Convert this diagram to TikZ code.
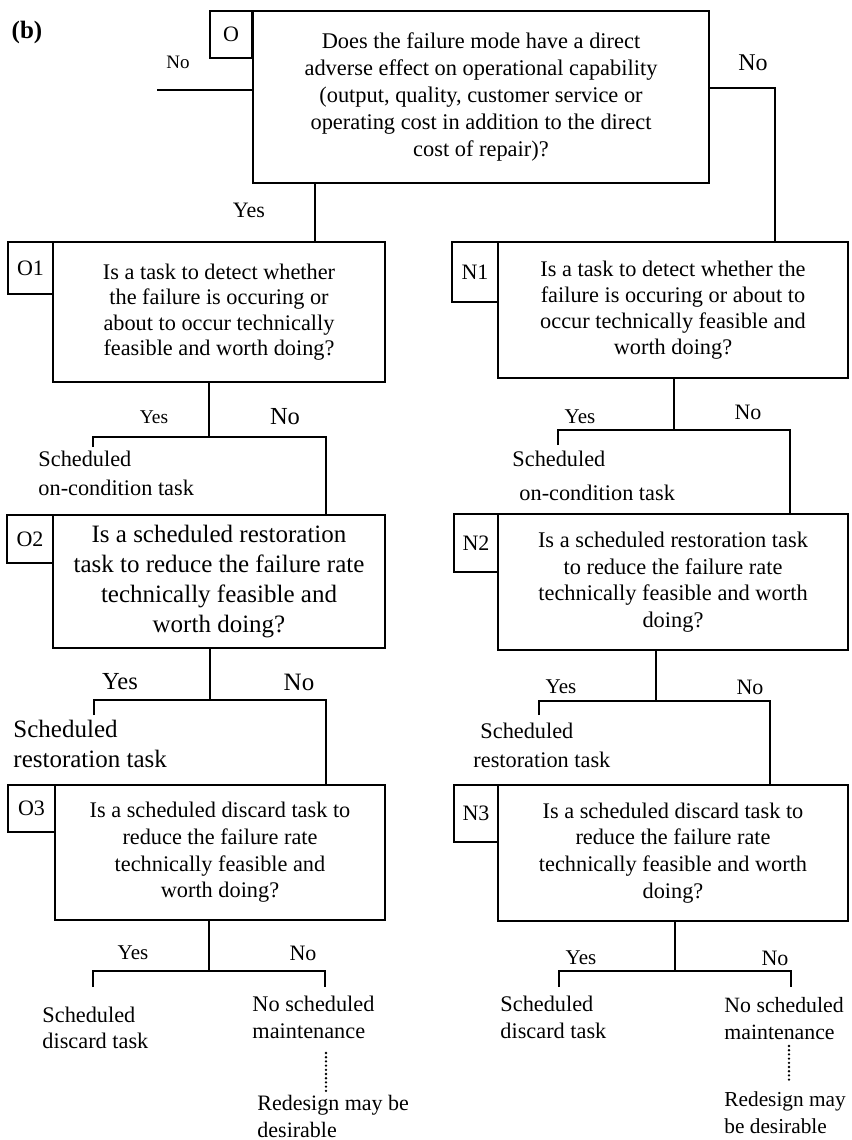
\documentclass[tikz,border=0pt]{standalone}
\usepackage{fontspec}
\setmainfont{Liberation Serif}
\newcommand\fs[2]{\fontsize{#1}{#2}\selectfont}
\tikzset{
  qbox/.style={draw, inner sep=0pt, align=center},
  lbox/.style={draw, inner sep=0pt, font=\fs{22}{26}},
  lab/.style={inner sep=0pt},
  lln/.style={inner sep=0pt, align=left, anchor=north west},
  dots/.style={dash pattern=on 0pt off 4.2pt, line cap=round, line width=2.6pt}
}
\begin{document}
\begin{tikzpicture}[x=1pt, y=-1pt, line width=2.9pt]
\useasboundingbox (0,0) rectangle (851,1140);

% ---------- boxes ----------
\node[qbox, minimum width=456pt, minimum height=172pt, font=\fs{22.4}{27}] (O) at (481,97)
  {Does the failure mode have a direct\\adverse effect on operational capability\\(output, quality, customer service or\\operating cost in addition to the direct\\cost of repair)?};
\node[lbox, minimum width=42pt, minimum height=47pt] (Ol) at (231,34.5) {O};

\node[qbox, minimum width=332pt, minimum height=140pt, font=\fs{22.3}{25.5}] (O1) at (219,312)
  {Is a task to detect whether\\the failure is occuring or\\about to occur technically\\feasible and worth doing?};
\node[lbox, minimum width=45pt, minimum height=52pt] (O1l) at (30.5,268) {O1};

\node[qbox, minimum width=350pt, minimum height=136pt, font=\fs{22.3}{26}] (N1) at (673,310)
  {Is a task to detect whether the\\failure is occuring or about to\\occur technically feasible and\\worth doing?};
\node[lbox, minimum width=46pt, minimum height=60pt] (N1l) at (475,272) {N1};

\node[qbox, minimum width=332pt, minimum height=133pt, font=\fs{25}{30}] (O2) at (219,581.5)
  {Is a scheduled restoration\\task to reduce the failure rate\\technically feasible and\\worth doing?};
\node[lbox, minimum width=46pt, minimum height=48pt] (O2l) at (30,539) {O2};

\node[qbox, minimum width=350pt, minimum height=136pt, font=\fs{22.4}{26.5}] (N2) at (673,582)
  {Is a scheduled restoration task\\to reduce the failure rate\\technically feasible and worth\\doing?};
\node[lbox, minimum width=44pt, minimum height=58pt] (N2l) at (476,543) {N2};

\node[qbox, minimum width=330pt, minimum height=135pt, font=\fs{22.3}{26.7}] (O3) at (220,852.5)
  {Is a scheduled discard task to\\reduce the failure rate\\technically feasible and\\worth doing?};
\node[lbox, minimum width=47pt, minimum height=47pt] (O3l) at (31.5,808.5) {O3};

\node[qbox, minimum width=350pt, minimum height=136pt, font=\fs{22.3}{26.7}] (N3) at (673,853)
  {Is a scheduled discard task to\\reduce the failure rate\\technically feasible and worth\\doing?};
\node[lbox, minimum width=44pt, minimum height=57pt] (N3l) at (476,813.5) {N3};

% ---------- top connectors ----------
\node[lab, font=\fs{25}{30}\bfseries] (b) at (27,32) {(b)};
\coordinate (noL) at (157,90);
\draw (noL) -- (noL -| O.west);
\node[lab, font=\fs{19}{23}] (noLt) at (178,62) {No};
\coordinate (noR) at (775,88);
\draw (noR -| O.east) -- (noR) -- (noR |- N1.north);
\node[lab, font=\fs{24}{28}] (noRt) at (753,63) {No};
\coordinate (yesO) at (315,0);
\draw (yesO |- O.south) -- (yesO |- O1.north);
\node[lab, font=\fs{22}{26}] (yesOt) at (249,210) {Yes};

% ---------- O1 branch ----------
\coordinate (a1) at (209,437);
\coordinate (a1y) at (93,447);
\coordinate (a1n) at (326,0);
\draw (a1 |- O1.south) -- (a1);
\draw (a1y) |- (a1) -| (a1n |- O2.north);
\node[lab, font=\fs{19.5}{23}] (a1yt) at (154,417) {Yes};
\node[lab, font=\fs{24.5}{28}] (a1nt) at (285,417) {No};
\node[lln, font=\fs{22.3}{29}] (a1s) at (37,450) {Scheduled\\on-condition task};

% ---------- N1 branch ----------
\coordinate (b1) at (674,430);
\coordinate (b1y) at (558,445);
\coordinate (b1n) at (790,0);
\draw (b1 |- N1.south) -- (b1);
\draw (b1y) |- (b1) -| (b1n |- N2.north);
\node[lab, font=\fs{21}{25}] (b1yt) at (580,417) {Yes};
\node[lab, font=\fs{22}{26}] (b1nt) at (748,412) {No};
\node[lln, font=\fs{22.3}{34}] (b1s) at (511,450) {Scheduled\\\hspace*{7pt}on-condition task};

% ---------- O2 branch ----------
\coordinate (a2) at (210,700);
\coordinate (a2y) at (94,715);
\coordinate (a2n) at (326,0);
\draw (a2 |- O2.south) -- (a2);
\draw (a2y) |- (a2) -| (a2n |- O3.north);
\node[lab, font=\fs{24.5}{28}] (a2yt) at (120,682) {Yes};
\node[lab, font=\fs{25}{29}] (a2nt) at (299,682) {No};
\node[lln, font=\fs{25}{30}] (a2s) at (12,719) {Scheduled\\restoration task};

% ---------- N2 branch ----------
\coordinate (b2) at (656,701);
\coordinate (b2y) at (539,715);
\coordinate (b2n) at (770,0);
\draw (b2 |- N2.south) -- (b2);
\draw (b2y) |- (b2) -| (b2n |- N3.north);
\node[lab, font=\fs{21}{25}] (b2yt) at (561,687) {Yes};
\node[lab, font=\fs{22}{26}] (b2nt) at (750,687) {No};
\node[lln, font=\fs{22.3}{29}] (b2s) at (479,722) {Scheduled\\\hspace*{-7pt}restoration task};

% ---------- O3 branch ----------
\coordinate (a3) at (209,971);
\coordinate (a3y) at (93,987);
\coordinate (a3n) at (325,987);
\draw (a3 |- O3.south) -- (a3);
\draw (a3y) |- (a3) -| (a3n);
\node[lab, font=\fs{21}{25}] (a3yt) at (133,953) {Yes};
\node[lab, font=\fs{22}{26}] (a3nt) at (303,953) {No};
\node[lln, font=\fs{22.3}{26}] (a3s) at (41,1006) {Scheduled\\discard task};
\node[lln, font=\fs{22.3}{27}] (a3m) at (251,995) {No scheduled\\maintenance};
\node[lln, font=\fs{22}{26.5}] (a3r) at (256,1094) {Redesign may be\\desirable};
\coordinate (d1a) at (326,1053);
\coordinate (d1b) at (326,1091);
\draw[dots] (d1a) -- (d1b);

% ---------- N3 branch ----------
\coordinate (b3) at (675,971);
\coordinate (b3y) at (559,987);
\coordinate (b3n) at (791,987);
\draw (b3 |- N3.south) -- (b3);
\draw (b3y) |- (b3) -| (b3n);
\node[lab, font=\fs{21}{25}] (b3yt) at (581,958) {Yes};
\node[lab, font=\fs{22}{26}] (b3nt) at (775,958) {No};
\node[lln, font=\fs{22.3}{27}] (b3s) at (499,995) {Scheduled\\discard task};
\node[lln, font=\fs{21.8}{27}] (b3m) at (723,996) {No scheduled\\maintenance};
\node[lln, font=\fs{21.3}{27}] (b3r) at (723,1090) {Redesign may\\be desirable};
\coordinate (d2a) at (789,1046);
\coordinate (d2b) at (789,1082);
\draw[dots] (d2a) -- (d2b);
\end{tikzpicture}
\end{document}
